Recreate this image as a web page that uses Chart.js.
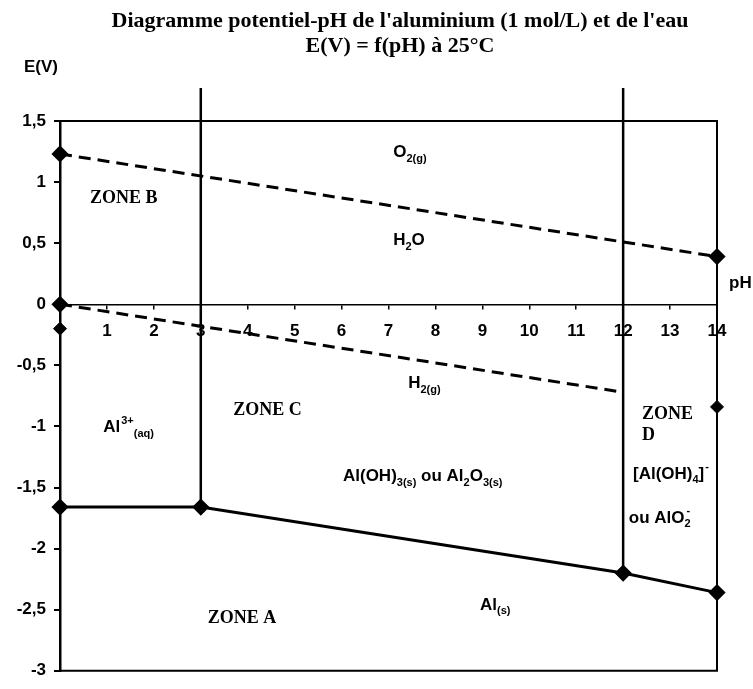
<!DOCTYPE html>
<html lang="fr">
<head>
<meta charset="utf-8">
<title>Diagramme potentiel-pH de l'aluminium</title>
<script src="https://cdn.jsdelivr.net/npm/chart.js@4/dist/chart.umd.min.js"></script>
<style>
    html, body { margin: 0; padding: 0; background: #fff; }
    #wrap { width: 753px; height: 689px; }
</style>
</head>
<body>
<div id="wrap"><canvas id="pourbaix" width="753" height="689"></canvas></div>
<script>
// ── Données ──────────────────────────────────────────────────────────────────
const titleLines = ["Diagramme potentiel-pH de l'aluminium (1 mol/L) et de l'eau", "E(V) = f(pH) à 25°C"];
const yTicks     = [-3, -2.5, -2, -1.5, -1, -0.5, 0, 0.5, 1, 1.5];
const xTicks     = [0, 1, 2, 3, 4, 5, 6, 7, 8, 9, 10, 11, 12, 13, 14];

// droite O2 / H2O
const o2pH  = [0, 14];
const o2E   = [1.23, 0.39];
// droite H2O / H2
const h2pH  = [0, 12];
const h2E   = [0, -0.72];
// frontière Al(s)
const alpH  = [0, 3, 12, 14];
const alE   = [-1.66, -1.66, -2.2, -2.36];
// frontières verticales (pH = 3 et pH = 12)
const v3E   = [-1.66, 1.77];
const v12E  = [-2.2, 1.77];
// points isolés
const ptpH  = [0, 14];
const ptE   = [-0.2, -0.84];

// étiquettes des domaines : [pH, E, segments, police]
const zoneLabels = [
    [7.1,  1.24,  [['O'], ['2(g)', 'sub']], 'sans'],
    [7.1,  0.52,  [['H'], ['2', 'sub'], ['O']], 'sans'],
    [0.64, 0.87,  [['ZONE B']], 'serif'],
    [7.42, -0.65, [['H'], ['2(g)', 'sub']], 'sans'],
    [3.69, -0.87, [['ZONE C']], 'serif'],
    [0.92, -1.01, [['Al'], ['3+', 'sup'], ['(aq)', 'sub']], 'sans'],
    [6.03, -1.41, [['Al(OH)'], ['3(s)', 'sub'], [' ou Al'], ['2', 'sub'], ['O'], ['3(s)', 'sub']], 'sans'],
    [12.4, -0.9,  [['ZONE']], 'serif'],
    [12.4, -1.07, [['D']], 'serif'],
    [12.21, -1.39, [['[Al(OH)'], ['4', 'sub'], [']'], ['-', 'sup']], 'sans'],
    [12.12, -1.75, [['ou AlO'], ['2', 'sub'], ['-', 'supb']], 'sans'],
    [8.95, -2.46, [['Al'], ['(s)', 'sub']], 'sans'],
    [3.15, -2.57, [['ZONE A']], 'serif'],
];

const pts = (xs, ys) => xs.map((x, i) => ({ x, y: ys[i] }));

// ── Helpers ──────────────────────────────────────────────────────────────────
const SANS  = '"Liberation Sans", Arial, sans-serif';
const SERIF = '"Liberation Serif", "Times New Roman", serif';

function drawRich(ctx, x, y, segs, family) {
    const base = family === 'serif' ? `bold 18px ${SERIF}` : `bold 17px ${SANS}`;
    const small = `bold 11px ${SANS}`;
    let cx = x, lastW = 0;
    ctx.textBaseline = 'middle';
    ctx.textAlign = 'left';
    segs.forEach(([t, kind]) => {
        if (kind === 'sub') {
            ctx.font = small;
            ctx.fillText(t, cx, y + 6);
            lastW = ctx.measureText(t).width;
            cx += lastW;
        } else if (kind === 'sup' || kind === 'supb') {
            ctx.font = small;
            const sx = kind === 'supb' ? cx - lastW + 1 : cx;
            ctx.fillText(t, sx + 1, y - 7);
            if (kind === 'sup') cx += ctx.measureText(t).width + 1;
        } else {
            ctx.font = base;
            ctx.fillText(t, cx, y);
            lastW = ctx.measureText(t).width;
            cx += lastW;
        }
    });
}

const decor = {
    id: 'decor',
    beforeDraw(chart) {
        const { ctx } = chart;
        ctx.save();
        ctx.fillStyle = '#fff';
        ctx.fillRect(0, 0, chart.width, chart.height);
        ctx.restore();
    },
    beforeDatasetsDraw(chart) {
        const { ctx, chartArea: a } = chart;
        ctx.save();
        ctx.strokeStyle = '#000';
        ctx.lineWidth = 2;
        ctx.beginPath();
        ctx.moveTo(a.left, a.top);
        ctx.lineTo(a.right, a.top);
        ctx.lineTo(a.right, a.bottom);
        ctx.lineTo(a.left, a.bottom);
        ctx.stroke();
        ctx.restore();
    },
    afterDatasetsDraw(chart) {
        const { ctx, scales: { x, y } } = chart;
        ctx.save();
        ctx.fillStyle = '#000';
        // titre
        ctx.textAlign = 'center';
        ctx.textBaseline = 'middle';
        ctx.font = `bold 22px ${SERIF}`;
        ctx.fillText(titleLines[0], 400, 21);
        ctx.fillText(titleLines[1], 400, 46);
        // noms des axes
        ctx.font = `bold 17px ${SANS}`;
        ctx.textAlign = 'left';
        ctx.fillText('E(V)', 24, 67);
        ctx.fillText('pH', 729, 283);
        // domaines
        zoneLabels.forEach(([px, e, segs, fam]) => {
            drawRich(ctx, x.getPixelForValue(px), y.getPixelForValue(e), segs, fam);
        });
        ctx.restore();
    }
};

// ── Chart ────────────────────────────────────────────────────────────────────
const diamond = { pointStyle: 'rectRot', pointRadius: 6.5, pointBackgroundColor: '#000', pointBorderColor: '#000', pointHoverRadius: 6.5 };

new Chart(document.getElementById('pourbaix'), {
    type: 'scatter',
    data: {
        datasets: [
            { data: pts(alpH, alE), showLine: true, borderColor: '#000', borderWidth: 3, clip: false, ...diamond },
            { data: pts(o2pH, o2E), showLine: true, borderColor: '#000', borderWidth: 3, borderDash: [12, 7], clip: false, ...diamond },
            { data: pts(h2pH, h2E), showLine: true, borderColor: '#000', borderWidth: 3, borderDash: [12, 7], clip: false, ...diamond, pointRadius: [6.5, 0] },
            { data: pts([3, 3], v3E), showLine: true, borderColor: '#000', borderWidth: 2.5, pointRadius: 0, clip: false },
            { data: pts([12, 12], v12E), showLine: true, borderColor: '#000', borderWidth: 2.5, pointRadius: 0, clip: false },
            { data: pts(ptpH, ptE), showLine: false, clip: false, ...diamond },
        ],
    },
    options: {
        responsive: false,
        animation: false,
        layout: { padding: { top: 121, right: 36, bottom: 8, left: 0 } },
        plugins: {
            legend: { display: false },
            tooltip: { enabled: false },
            title: { display: false },
        },
        scales: {
            x: {
                type: 'linear',
                position: { y: 0 },
                min: 0,
                max: 14,
                afterBuildTicks: s => { s.ticks = xTicks.map(v => ({ value: v })); },
                ticks: {
                    color: '#000',
                    padding: 13,
                    font: { family: SANS, size: 17, weight: 'bold' },
                    callback: v => (v === 0 ? '' : String(v)),
                },
                grid: { drawOnChartArea: false, tickLength: 4, color: '#000', lineWidth: 1.5 },
                border: { color: '#000', width: 1.5 },
            },
            y: {
                type: 'linear',
                min: -3,
                max: 1.5,
                afterFit: s => { s.width = 60; },
                afterBuildTicks: s => { s.ticks = yTicks.map(v => ({ value: v })); },
                ticks: {
                    color: '#000',
                    padding: 8,
                    font: { family: SANS, size: 17, weight: 'bold' },
                    callback: v => String(v).replace('.', ','),
                },
                grid: { drawOnChartArea: false, tickLength: 6, color: '#000', lineWidth: 2 },
                border: { color: '#000', width: 2.5 },
            },
        },
    },
    plugins: [decor],
});
</script>
</body>
</html>
